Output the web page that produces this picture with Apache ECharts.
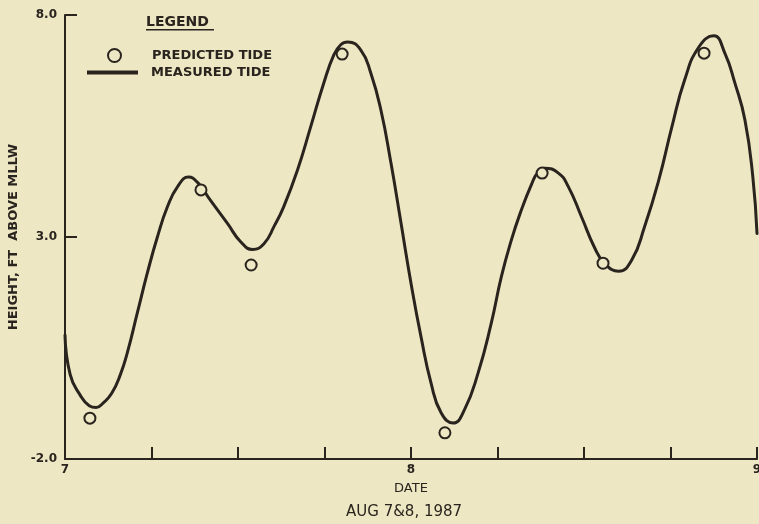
<!DOCTYPE html>
<html>
<head>
<meta charset="utf-8">
<script src="https://cdn.jsdelivr.net/npm/echarts@6/dist/echarts.min.js"></script>
<style>
html,body{margin:0;padding:0;background:#eee7c4;}
#chart{width:759px;height:524px;}
</style>
</head>
<body>
<div id="chart"></div>
<script>
// Measured tide (continuous curve): day (Aug) and height (ft above MLLW)
const measuredX = [7.000,7.015,7.043,7.070,7.090,7.110,7.135,7.160,7.180,7.209,7.238,7.267,7.296,7.325,7.357,7.383,7.420,7.470,7.507,7.542,7.575,7.605,7.632,7.672,7.710,7.748,7.777,7.797,7.817,7.855,7.884,7.913,7.942,7.971,8.000,8.029,8.058,8.087,8.122,8.154,8.194,8.232,8.261,8.290,8.319,8.348,8.366,8.386,8.426,8.455,8.493,8.530,8.559,8.600,8.638,8.675,8.716,8.754,8.791,8.832,8.875,8.907,8.936,8.965,8.988,9.000];
const measuredY = [0.79,-0.10,-0.55,-0.80,-0.84,-0.74,-0.52,-0.10,0.39,1.29,2.19,3.00,3.68,4.13,4.35,4.23,3.83,3.30,2.90,2.72,2.85,3.25,3.68,4.51,5.48,6.47,7.10,7.33,7.39,7.21,6.69,5.86,4.67,3.32,1.96,0.75,-0.29,-0.96,-1.19,-0.90,-0.06,1.06,2.10,2.93,3.61,4.18,4.45,4.55,4.44,4.13,3.45,2.77,2.41,2.23,2.48,3.23,4.28,5.48,6.54,7.28,7.53,7.14,6.47,5.64,4.35,3.08];
// Predicted tide (circles)
const predictedX = [7.072,7.393,7.538,7.801,8.098,8.379,8.555,8.847];
const predictedY = [-1.08,4.06,2.37,7.12,-1.41,4.44,2.41,7.14];
// Axis ticks
const xTickLabels = ['7','8','9'];
const yTickValues = [-2,3,8];
const yTickLabels = ['-2.0','3.0','8.0'];

const ink = '#2a241e';
const bg = '#eee7c4';
const chart = echarts.init(document.getElementById('chart'));
chart.setOption({
  backgroundColor: bg,
  animation: false,
  grid: {left: 65, right: 2, top: 15, bottom: 65, outerBoundsMode: 'none', containLabel: false},
  title: {
    text: 'AUG 7&8, 1987',
    left: 346, top: 505, padding: 0,
    textStyle: {fontFamily: 'DejaVu Sans', fontSize: 15, fontWeight: 'normal', color: ink}
  },
  legend: [
    {
      data: ['PREDICTED TIDE'], left: 107, top: 48, padding: 0,
      itemWidth: 13, itemHeight: 13, icon: 'circle',
      textStyle: {fontFamily: 'DejaVu Sans', fontSize: 13, fontWeight: 'bold', color: ink, padding: [0,0,0,26]}
    },
    {
      data: ['MEASURED TIDE'], left: 87, top: 66, padding: 0,
      itemWidth: 51, itemHeight: 4, icon: 'rect',
      textStyle: {fontFamily: 'DejaVu Sans', fontSize: 13, fontWeight: 'bold', color: ink, padding: [0,0,0,8]}
    }
  ],
  graphic: [
    {type: 'text', left: 146, top: 15, style: {text: 'LEGEND', font: 'bold 14px "DejaVu Sans"', fill: ink}},
    {type: 'rect', left: 146, top: 29, shape: {width: 68, height: 1.5}, style: {fill: ink}}
  ],
  xAxis: {
    type: 'value', min: 7, max: 9, interval: 0.25,
    name: 'DATE', nameLocation: 'middle', nameGap: 23,
    nameTextStyle: {fontFamily: 'DejaVu Sans', fontSize: 13, color: ink},
    axisLine: {onZero: false, lineStyle: {color: ink, width: 2}},
    axisTick: {inside: true, length: 12, lineStyle: {color: ink, width: 2}},
    splitLine: {show: false},
    axisLabel: {
      margin: 5, color: ink, fontFamily: 'DejaVu Sans', fontSize: 12, fontWeight: 'bold',
      showMaxLabel: true, showMinLabel: true,
      formatter: v => { const i = xTickLabels.indexOf(String(v)); return i >= 0 ? xTickLabels[i] : ''; }
    }
  },
  yAxis: {
    type: 'value', min: -2, max: 8, interval: 5,
    name: 'HEIGHT, FT  ABOVE MLLW', nameLocation: 'middle', nameGap: 45, nameRotate: 90,
    nameTextStyle: {fontFamily: 'DejaVu Sans', fontSize: 13, fontWeight: 'bold', color: ink},
    axisLine: {show: true, onZero: false, lineStyle: {color: ink, width: 2}},
    axisTick: {show: true, inside: true, length: 12, lineStyle: {color: ink, width: 2}},
    splitLine: {show: false},
    axisLabel: {
      margin: 8, color: ink, fontFamily: 'DejaVu Sans', fontSize: 12, fontWeight: 'bold',
      formatter: v => yTickLabels[yTickValues.indexOf(v)] || ''
    }
  },
  series: [
    {
      name: 'MEASURED TIDE', type: 'line', smooth: 0.5, showSymbol: false,
      data: measuredX.map((x, i) => [x, measuredY[i]]),
      lineStyle: {color: ink, width: 3, cap: 'round', join: 'round'},
      itemStyle: {color: ink}, z: 2
    },
    {
      name: 'PREDICTED TIDE', type: 'scatter', symbol: 'circle', symbolSize: 11,
      data: predictedX.map((x, i) => [x, predictedY[i]]),
      itemStyle: {color: bg, borderColor: ink, borderWidth: 2, opacity: 1}, z: 3
    }
  ]
});
</script>
</body>
</html>
